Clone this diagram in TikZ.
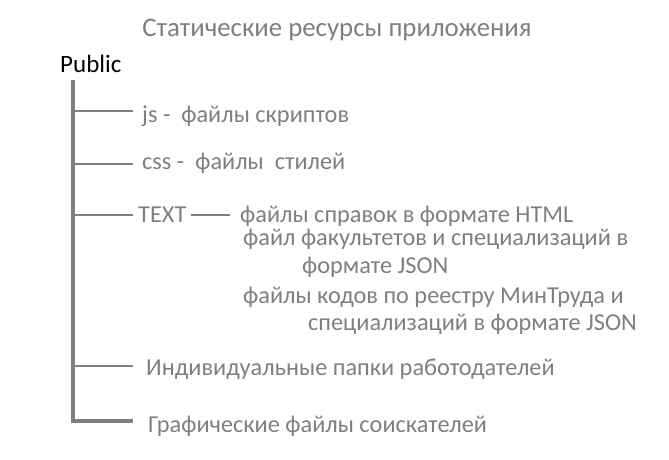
\documentclass[tikz,border=0pt]{standalone}
\usepackage{fontspec}
\setmainfont{Carlito}
\usetikzlibrary{positioning}
\definecolor{textgray}{HTML}{7F7F7F}
\definecolor{linegray}{HTML}{7F7F7F}
\tikzset{
	item/.style={anchor=base west, inner sep=0pt, text=textgray, font=\fontsize{24.3}{28}\selectfont},
	note/.style={item, anchor=base},
	branch/.style={draw=linegray, line width=2pt},
	trunk/.style={draw=linegray, line width=3.2pt}
}
\begin{document}
\begin{tikzpicture}[x=1pt, y=-1pt]
	\useasboundingbox (0,0) rectangle (669,459);

	% Title and root
	\node[note, font=\fontsize{26.8}{30}\selectfont] (title) at (337,36) {Статические ресурсы приложения};
	\node[item, text=black, font=\fontsize{25}{29}\selectfont] (public) at (60,72) {Public};

	% Points on the trunk
	\coordinate (top) at (73,80);
	\coordinate (bjs) at (73,111);
	\coordinate (bcss) at (73,164);
	\coordinate (btext) at (73,215);
	\coordinate (bind) at (73,366);
	\coordinate (bimg) at (73,421);

	% Ends of the branches
	\coordinate (ejs) at (133,111);
	\coordinate (ecss) at (133,164);
	\coordinate (etext) at (133,215);
	\coordinate (eind) at (133,366);
	\coordinate (eimg) at (133,421);

	% Items
	\node[item] (js) at (142,122) {js -\ \ файлы скриптов};
	\node[item] (css) at (142,169) {css -\ \ файлы\ \ стилей};
	\node[item] (text) at (138,222) {TEXT};
	\node[item] (html) at (240,222) {файлы справок в формате HTML};
	\node[item] (fac) at (243,245) {файл факультетов и специализаций в};
	\node[item] (fac2) at (302,273) {формате JSON};
	\node[item] (mint) at (243,303) {файлы кодов по реестру МинТруда и};
	\node[item] (mint2) at (308,330) {специализаций в формате JSON};
	\node[item] (ind) at (146,375) {Индивидуальные папки работодателей};
	\node[item] (img) at (148,432) {Графические файлы соискателей};

	% Tree lines
	\draw[trunk] (top) -- (bimg) -- (eimg);
	\draw[branch] (bjs) -- (ejs);
	\draw[branch] (bcss) -- (ecss);
	\draw[branch] (btext) -- (etext);
	\draw[branch] (bind) -- (eind);
	\draw[branch, shorten <=4pt, shorten >=10pt] (text.east |- btext) -- (html.west |- btext);

\end{tikzpicture}
\end{document}
